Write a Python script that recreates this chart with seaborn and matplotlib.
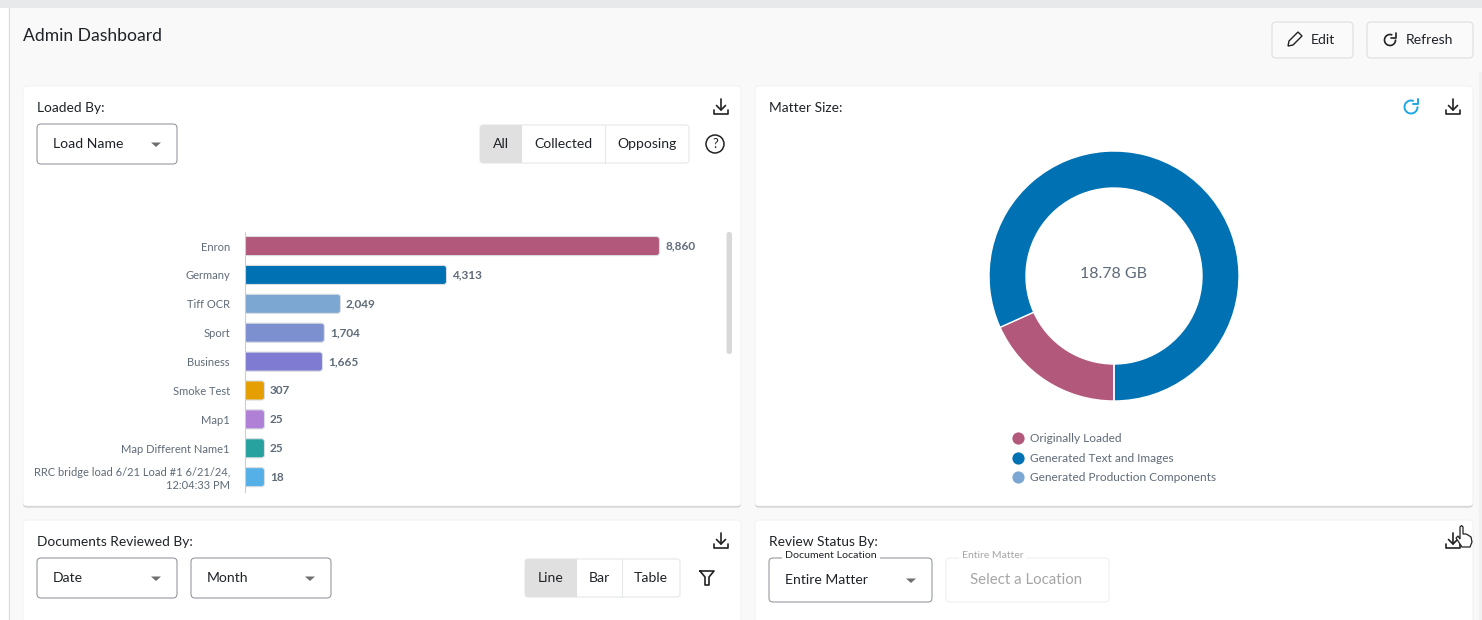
import numpy as np
import pandas as pd
import seaborn as sns
import matplotlib
matplotlib.use('Agg')
import matplotlib.pyplot as plt
from matplotlib.lines import Line2D
from matplotlib.patches import Arc, Circle, FancyBboxPatch, Polygon, Rectangle

# values
load_names = ['Enron', 'Germany', 'Tiff OCR', 'Sport', 'Business', 'Smoke Test', 'Map1',
              'Map Different Name1', 'RRC bridge load 6/21 Load #1 6/21/24,\n12:04:33 PM']
load_counts = [8860, 4313, 2049, 1704, 1665, 307, 25, 25, 18]
load_colors = ['#b2587a', '#0071b2', '#7ba7d2', '#7c90d0', '#7f7bd2', '#e69f00', '#b07fd6', '#27a29e', '#56b0e8']

size_labels = ['Originally Loaded', 'Generated Text and Images', 'Generated Production Components']
size_values = [3.43, 15.35, 0.0]
size_colors = ['#b2587a', '#0071b2', '#7ba7d2']
size_total = '18.78 GB'

W, H = 1482, 620
TEXT = '#1f2328'
GREY = '#5f6b78'

sns.set_theme(style='white')
plt.rcParams['font.family'] = ['Lato', 'DejaVu Sans']

fig = plt.figure(figsize=(W / 100, H / 100), dpi=100, facecolor='#f9f9f9')


def axes_px(x0, y0, x1, y1, **kw):
    return fig.add_axes([x0 / W, 1 - y1 / H, (x1 - x0) / W, (y1 - y0) / H], **kw)


# page chrome is drawn in a pixel-sized axes behind the charts
bg = axes_px(0, 0, W, H, zorder=0)
bg.set_xlim(0, W)
bg.set_ylim(H, 0)
bg.axis('off')


def label(x, y, s, size=14, color=TEXT, ha='left', **kw):
    bg.text(x, y, s, fontsize=size * 0.72, color=color, ha=ha, va='center', **kw)


def box(x0, y0, x1, y1, r=3, fc='white', ec='#d9dcdf', lw=0.72, z=1):
    bg.add_patch(FancyBboxPatch((x0, y0), x1 - x0, y1 - y0, boxstyle=f'round,pad=0,rounding_size={r}',
                                fc=fc, ec=ec, lw=lw, zorder=z))


def card(x0, y0, x1, y1):
    box(x0, y0 + 1.5, x1, y1 + 1.5, r=4, fc='#c4c7ca', ec='none', z=1)
    box(x0, y0, x1, y1, r=4, fc='white', ec='#f0f0f0', lw=0.6, z=1.1)


def dropdown(x0, y0, x1, y1, s):
    box(x0, y0, x1, y1, r=4, ec='#8a8f94', z=2)
    label(x0 + 16, (y0 + y1) / 2, s, zorder=3)
    cx = x1 - 21
    cy = (y0 + y1) / 2
    bg.add_patch(Polygon([(cx - 5, cy - 1.5), (cx + 5, cy - 1.5), (cx, cy + 3)], fc='#6f6f6f', ec='none', zorder=3))


def segmented(x0, ys, edges, names):
    # edges holds the right end of every segment
    y0, y1 = ys
    box(x0, y0, edges[-1], y1, r=3, ec='#e3e5e7', z=2)
    bg.add_patch(FancyBboxPatch((x0, y0), edges[0] - x0, y1 - y0, boxstyle='round,pad=0,rounding_size=3',
                                fc='#e0e0e0', ec='none', zorder=2.1))
    bg.add_patch(Rectangle((edges[0] - 5, y0), 5, y1 - y0, fc='#e0e0e0', ec='none', zorder=2.1))
    left = x0
    for right, name in zip(edges, names):
        label((left + right) / 2, (y0 + y1) / 2, name, ha='center', zorder=3)
        if right != edges[-1] and left != x0:
            bg.plot([right, right], [y0, y1], color='#e3e5e7', lw=0.72, zorder=3)
        left = right


def download_icon(cx, cy):
    kw = dict(color='#222222', lw=1.2, zorder=3, solid_capstyle='round')
    bg.plot([cx, cx], [cy - 8, cy + 3], **kw)
    bg.plot([cx - 4.5, cx, cx + 4.5], [cy - 1.5, cy + 3, cy - 1.5], **kw)
    bg.plot([cx - 7, cx - 7, cx + 7, cx + 7], [cy + 3, cy + 7, cy + 7, cy + 3], **kw)


def refresh_icon(cx, cy, r, color, lw=1.2):
    bg.add_patch(Arc((cx, cy), 2 * r, 2 * r, theta1=-5, theta2=295, color=color, lw=lw, zorder=3))
    bg.plot([cx + r - 5, cx + r, cx + r], [cy - r + 3, cy - r + 3, cy - r - 2], color=color, lw=lw, zorder=3)


# page background bits
bg.add_patch(Rectangle((0, 0), W, 8, fc='#e7e9eb', ec='none'))
bg.add_patch(Rectangle((0, 8), 8, H, fc='white', ec='none'))
bg.plot([8.5, 8.5], [8, H], color='#dcdcdc', lw=0.72)
bg.add_patch(Rectangle((1479, 72), 3, H, fc='#f1f1f1', ec='none'))

label(23, 36, 'Admin Dashboard', size=17.5)

box(1272, 22, 1353, 58, r=4, fc='#fafafa')
box(1367, 22, 1473, 58, r=4, fc='#fafafa')
label(1311, 40, 'Edit', zorder=3)
label(1406, 40, 'Refresh', zorder=3)
bg.add_patch(Polygon([(1288, 46), (1289, 41), (1298, 32), (1302, 36), (1293, 45)], fc='none', ec='#222222',
                     lw=1.0, zorder=3))
refresh_icon(1390, 40, 5.5, '#222222')

card(23, 86, 741, 506)
card(755, 86, 1473, 506)
card(23, 520, 741, 640)
card(755, 520, 1473, 640)

# Loaded By card
label(37, 108, 'Loaded By:', size=13.8)
download_icon(721, 107)
dropdown(37, 124, 177, 164, 'Load Name')
segmented(480, (125, 163), [522, 604.5, 689], ['All', 'Collected', 'Opposing'])
bg.add_patch(Circle((715, 144), 9, fc='none', ec='#222222', lw=1.1, zorder=3))
label(715, 144, '?', size=13, ha='center', zorder=3)
box(726.5, 232, 732, 354, r=2.5, fc='#d9d9d9', ec='none', z=2)

# Matter Size card
label(769, 108, 'Matter Size:', size=13.8)
refresh_icon(1411, 107, 6.5, '#1ea7e4', lw=1.4)
download_icon(1453, 107)

# Documents Reviewed By card
label(37, 542, 'Documents Reviewed By:', size=13.8)
download_icon(721, 541)
dropdown(37, 558, 177, 598, 'Date')
dropdown(191, 558, 331, 598, 'Month')
segmented(525, (559, 597), [577, 622, 680], ['Line', 'Bar', 'Table'])
bg.plot([700, 714, 709, 709, 705, 705, 700], [571, 571, 577, 585, 585, 577, 571], color='#222222', lw=1.2, zorder=3)

# Review Status By card
label(769, 542, 'Review Status By:', size=13.8)
download_icon(1453, 541)
dropdown(769, 558, 932, 602, 'Entire Matter')
bg.add_patch(Rectangle((782, 553), 98, 6, fc='white', ec='none', zorder=3))
label(785, 556, 'Document Location', size=10.5, zorder=4)
box(946, 558, 1109, 602, r=4, ec='#eeeeee', z=2)
bg.add_patch(Rectangle((959, 553), 68, 6, fc='white', ec='none', zorder=3))
label(962, 556, 'Entire Matter', size=10.4, color='#a6a6a6', zorder=4)
label(970, 580, 'Select a Location', size=15, color='#a6a6a6', zorder=3)

# mouse pointer over the download icon
hand = [(1462, 547), (1456, 538), (1458, 536), (1460, 539), (1460, 527), (1461.5, 525.5), (1463, 527), (1463, 534),
        (1466, 534), (1468, 535), (1471, 537), (1472, 542), (1470, 547)]
bg.add_patch(Polygon(hand, fc='white', ec='#222222', lw=0.9, zorder=5))

# bar chart, the short bars keep a minimum length like in the app
px_per_count = 415 / 8860
min_length = 20 / px_per_count
bars = pd.DataFrame({'name': load_names, 'count': load_counts})
bars['length'] = np.maximum(bars['count'], min_length)

ax = axes_px(244.5, 231.6, 724.5, 491.6, zorder=2)
ax.patch.set_alpha(0)
sns.barplot(data=bars, x='length', y='name', hue='name', palette=load_colors, width=0.66, legend=False,
            saturation=1, ax=ax)
ax.set_xlim(0, 480 / px_per_count)
ax.set_ylim(8.5, -0.5)
ax.set_xlabel('')
ax.set_ylabel('')
ax.set_xticks([])
ax.tick_params(axis='y', length=0, pad=10.5, labelsize=8, labelcolor=GREY)
sns.despine(ax=ax, bottom=True)
ax.spines['left'].set_color('#c9ced3')
ax.spines['left'].set_linewidth(0.8)
for tick in ax.get_yticklabels():
    tick.set_ha('right')
    tick.set_linespacing(1.15)

# swap the flat bars for ones with rounded ends
corner = 3 / px_per_count
px_per_row = 260 / 9
y_per_x = (1 / px_per_row) / (1 / px_per_count)
for container, count in zip(ax.containers, load_counts):
    ax.bar_label(container, labels=[f'{count:,}'], padding=4, fontsize=8.5, fontweight='bold', color=GREY)
    for bar in container:
        rounded = FancyBboxPatch((-corner, bar.get_y()), bar.get_width() + corner, bar.get_height(),
                                 boxstyle=f'round,pad=0,rounding_size={corner}', mutation_aspect=y_per_x,
                                 fc=bar.get_facecolor(), ec='#d9dde1', lw=0.8, zorder=2)
        ax.add_patch(rounded)
        bar.set_visible(False)

# donut
ax2 = axes_px(989, 151, 1239, 401, zorder=2)
ax2.pie(size_values, colors=size_colors, startangle=270, counterclock=False, radius=1,
        wedgeprops=dict(width=37 / 125, edgecolor='white', linewidth=1))
ax2.set_xlim(-1, 1)
ax2.set_ylim(-1, 1)
ax2.text(0, 0.015, size_total, ha='center', va='center', fontsize=11.5, color=GREY)

handles = [Line2D([], [], marker='o', ls='none', markersize=8.8, markerfacecolor=c, markeredgecolor='none')
           for c in size_colors]
fig.legend(handles, size_labels, loc='upper left', bbox_to_anchor=(1006 / W, 1 - 433.5 / H), frameon=False,
           fontsize=8.6, labelcolor=GREY, labelspacing=0.7, handletextpad=0.0, borderpad=0, borderaxespad=0)

fig.savefig('out.png', dpi=100, facecolor=fig.get_facecolor())
